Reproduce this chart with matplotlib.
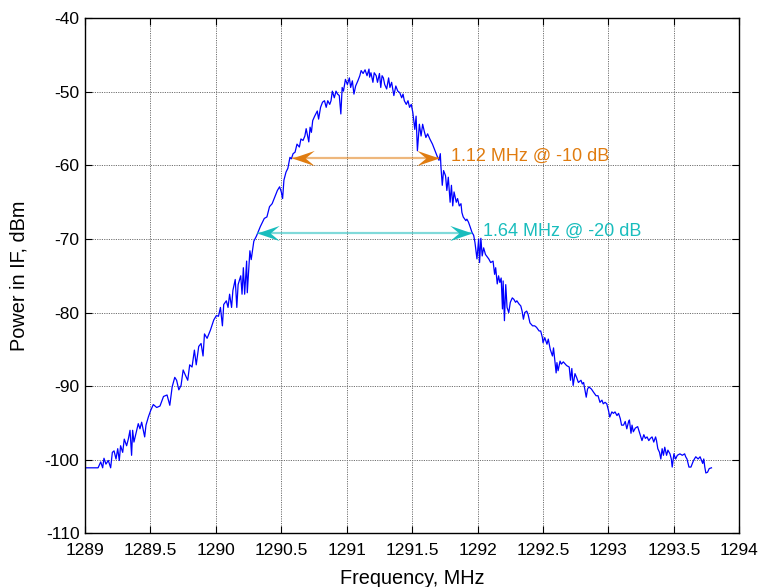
import numpy as np
import matplotlib
matplotlib.use('Agg')
import matplotlib.pyplot as plt
from matplotlib.path import Path

plt.rcParams['font.family'] = ['Liberation Sans', 'DejaVu Sans']

# measured IF spectrum (MHz, dBm)
freq = [
    1289.000, 1289.100, 1289.120, 1289.135, 1289.145, 1289.160, 1289.178, 1289.196, 1289.209, 1289.222,
    1289.237, 1289.250, 1289.262, 1289.272, 1289.288, 1289.300, 1289.318, 1289.331, 1289.344, 1289.356,
    1289.364, 1289.374, 1289.395, 1289.407, 1289.420, 1289.433, 1289.446, 1289.456, 1289.466, 1289.484,
    1289.502, 1289.522, 1289.548, 1289.573, 1289.600, 1289.627, 1289.648, 1289.666, 1289.686, 1289.700,
    1289.717, 1289.734, 1289.750, 1289.767, 1289.785, 1289.800, 1289.818, 1289.836, 1289.850, 1289.869,
    1289.887, 1289.902, 1289.913, 1289.933, 1289.958, 1289.984, 1290.004, 1290.020, 1290.035, 1290.050,
    1290.060, 1290.080, 1290.093, 1290.105, 1290.120, 1290.130, 1290.148, 1290.160, 1290.170, 1290.190,
    1290.200, 1290.210, 1290.220, 1290.235, 1290.240, 1290.260, 1290.270, 1290.290, 1290.310, 1290.340,
    1290.370, 1290.390, 1290.410, 1290.430, 1290.450, 1290.470, 1290.487, 1290.500, 1290.510, 1290.520,
    1290.536, 1290.550, 1290.566, 1290.577, 1290.590, 1290.605, 1290.620, 1290.638, 1290.650, 1290.666,
    1290.680, 1290.690, 1290.710, 1290.720, 1290.730, 1290.740, 1290.755, 1290.775, 1290.785, 1290.800,
    1290.815, 1290.830, 1290.843, 1290.855, 1290.870, 1290.880, 1290.890, 1290.905, 1290.918, 1290.930,
    1290.943, 1290.955, 1290.965, 1290.975, 1290.990, 1291.005, 1291.020, 1291.030, 1291.043, 1291.055,
    1291.068, 1291.085, 1291.100, 1291.110, 1291.125, 1291.140, 1291.155, 1291.170, 1291.175, 1291.185,
    1291.200, 1291.210, 1291.225, 1291.235, 1291.250, 1291.260, 1291.270, 1291.280, 1291.290, 1291.305,
    1291.320, 1291.330, 1291.343, 1291.360, 1291.375, 1291.390, 1291.405, 1291.420, 1291.430, 1291.440,
    1291.455, 1291.468, 1291.480, 1291.493, 1291.505, 1291.520, 1291.530, 1291.540, 1291.555, 1291.568,
    1291.580, 1291.593, 1291.605, 1291.618, 1291.635, 1291.655, 1291.675, 1291.690, 1291.705, 1291.715,
    1291.720, 1291.730, 1291.740, 1291.755, 1291.765, 1291.776, 1291.790, 1291.800, 1291.810, 1291.820,
    1291.837, 1291.847, 1291.860, 1291.873, 1291.880, 1291.890, 1291.910, 1291.918, 1291.930, 1291.944,
    1291.957, 1291.970, 1291.980, 1291.995, 1292.008, 1292.015, 1292.025, 1292.035, 1292.046, 1292.060,
    1292.085, 1292.100, 1292.118, 1292.130, 1292.138, 1292.150, 1292.160, 1292.170, 1292.180, 1292.190,
    1292.195, 1292.205, 1292.215, 1292.225, 1292.238, 1292.250, 1292.265, 1292.277, 1292.290, 1292.300,
    1292.315, 1292.330, 1292.340, 1292.350, 1292.360, 1292.375, 1292.385, 1292.400, 1292.420, 1292.436,
    1292.450, 1292.470, 1292.482, 1292.495, 1292.500, 1292.513, 1292.530, 1292.540, 1292.555, 1292.572,
    1292.580, 1292.600, 1292.606, 1292.615, 1292.630, 1292.640, 1292.655, 1292.680, 1292.700, 1292.710,
    1292.720, 1292.730, 1292.744, 1292.756, 1292.770, 1292.790, 1292.800, 1292.810, 1292.830, 1292.840,
    1292.850, 1292.870, 1292.885, 1292.905, 1292.920, 1292.935, 1292.950, 1292.960, 1292.974, 1292.987,
    1293.000, 1293.010, 1293.026, 1293.038, 1293.050, 1293.065, 1293.077, 1293.090, 1293.100, 1293.115,
    1293.128, 1293.140, 1293.154, 1293.160, 1293.172, 1293.180, 1293.190, 1293.205, 1293.223, 1293.240,
    1293.256, 1293.270, 1293.282, 1293.295, 1293.308, 1293.320, 1293.333, 1293.346, 1293.360, 1293.367,
    1293.377, 1293.390, 1293.400, 1293.410, 1293.420, 1293.430, 1293.444, 1293.454, 1293.470, 1293.480,
    1293.487, 1293.500, 1293.513, 1293.526, 1293.546, 1293.564, 1293.582, 1293.590, 1293.600, 1293.615,
    1293.630, 1293.650, 1293.667, 1293.685, 1293.700, 1293.720, 1293.728, 1293.736, 1293.744, 1293.757,
    1293.770, 1293.787,
]
power = [
    -101.1, -101.1, -100.3, -101.1, -99.8, -100.6, -100.1, -101.1, -99.0, -98.8,
    -99.9, -98.5, -100.1, -98.1, -99.0, -97.2, -98.1, -97.2, -96.0, -99.4,
    -96.0, -97.6, -96.0, -95.1, -95.8, -94.9, -96.0, -96.9, -95.3, -94.2,
    -93.3, -92.5, -92.9, -92.7, -91.4, -91.2, -92.6, -90.1, -88.8, -89.2,
    -90.5, -89.9, -87.8, -88.5, -89.2, -87.1, -87.4, -85.1, -87.1, -84.6,
    -84.2, -85.9, -82.9, -83.5, -82.4, -81.0, -80.4, -80.5, -79.3, -81.8,
    -78.9, -78.4, -79.3, -77.5, -79.3, -77.0, -75.5, -79.3, -76.2, -75.0,
    -77.5, -73.9, -77.5, -73.0, -77.3, -71.6, -72.8, -70.3, -69.6, -68.3,
    -67.2, -67.0, -65.6, -65.2, -64.3, -63.4, -62.9, -63.6, -64.5, -62.0,
    -60.9, -60.4, -58.9, -59.1, -58.4, -58.2, -57.1, -57.5, -56.4, -56.6,
    -56.0, -55.0, -56.8, -54.8, -55.5, -53.9, -53.3, -52.6, -53.7, -52.1,
    -51.4, -51.2, -52.1, -51.2, -51.7, -51.2, -49.9, -50.8, -49.9, -50.3,
    -50.5, -53.0, -49.4, -49.9, -48.3, -49.0, -48.1, -49.4, -48.5, -50.3,
    -49.2, -48.5, -47.8, -47.1, -47.5, -47.0, -47.8, -46.9, -48.0, -47.4,
    -48.7, -47.4, -47.8, -48.7, -47.5, -49.4, -47.8, -48.1, -49.0, -49.6,
    -48.1, -49.4, -48.7, -50.5, -49.2, -49.9, -50.1, -50.8, -50.3, -51.2,
    -51.7, -51.2, -52.1, -51.7, -52.8, -55.1, -53.3, -58.0, -54.4, -56.0,
    -54.4, -55.4, -56.2, -55.7, -56.4, -57.1, -58.0, -58.7, -59.3, -58.4,
    -60.2, -62.7, -60.7, -61.4, -63.4, -61.6, -65.0, -62.7, -65.5, -63.6,
    -65.0, -64.5, -65.5, -65.2, -66.4, -67.0, -67.5, -67.3, -67.7, -68.4,
    -69.1, -69.5, -70.5, -72.7, -70.0, -73.2, -69.9, -72.3, -71.2, -72.1,
    -72.7, -73.2, -73.0, -74.8, -73.9, -76.1, -75.0, -75.9, -75.3, -79.5,
    -75.7, -81.1, -76.2, -79.3, -80.0, -78.6, -78.0, -78.2, -78.6, -78.4,
    -78.8, -79.1, -79.8, -80.9, -80.0, -79.8, -80.2, -81.4, -81.8, -81.8,
    -82.0, -82.5, -82.5, -83.4, -84.1, -83.4, -84.3, -83.6, -85.0, -85.9,
    -84.8, -88.2, -86.8, -87.9, -86.6, -87.0, -86.7, -87.2, -87.4, -89.2,
    -87.6, -89.9, -88.3, -88.8, -89.5, -89.2, -89.7, -89.5, -91.5, -90.4,
    -90.1, -90.4, -90.8, -91.3, -91.3, -92.2, -91.9, -92.4, -92.2, -92.4,
    -93.3, -94.2, -93.5, -93.7, -93.5, -94.0, -93.7, -94.4, -95.3, -95.3,
    -94.8, -95.8, -94.8, -94.6, -96.4, -95.3, -96.2, -95.7, -95.5, -96.5,
    -97.4, -96.6, -97.1, -96.9, -97.4, -97.1, -96.9, -97.6, -96.9, -97.4,
    -98.5, -99.0, -99.9, -98.5, -99.4, -98.3, -99.4, -98.7, -99.2, -99.9,
    -101.0, -99.2, -99.9, -99.4, -99.2, -99.4, -99.2, -99.6, -99.9, -101.0,
    -101.0, -100.1, -99.6, -99.9, -99.6, -100.5, -99.9, -101.0, -101.8, -101.7,
    -101.2, -101.1,
]

# bandwidth markers: left edge, width (MHz), level (dBm)
bw_start = [1290.585, 1290.315]
bw_width = [1.12, 1.64]
bw_level = [-59.0, -69.2]
bw_text = ['1.12 MHz @ -10 dB', '1.64 MHz @ -20 dB']
bw_color = ['#E07C10', '#19BDBD']

xticks = [1289, 1289.5, 1290, 1290.5, 1291, 1291.5, 1292, 1292.5, 1293, 1293.5, 1294]
yticks = [-110, -100, -90, -80, -70, -60, -50, -40]

fig = plt.figure(figsize=(7.63, 5.87), dpi=100)
ax = fig.add_axes([0.1114, 0.0915, 0.8576, 0.8773])

ax.plot(freq, power, color='#0000FF', lw=0.9)

# arrow head shaped like a swept-back chevron, tip at origin
head_r = Path([(0, 0), (-22, 7.5), (-13, 0), (-22, -7.5), (0, 0)],
              [Path.MOVETO, Path.LINETO, Path.LINETO, Path.LINETO, Path.CLOSEPOLY])
head_l = Path([(0, 0), (22, 7.5), (13, 0), (22, -7.5), (0, 0)],
              [Path.MOVETO, Path.LINETO, Path.LINETO, Path.LINETO, Path.CLOSEPOLY])

for x0, w, lv, txt, c in zip(bw_start, bw_width, bw_level, bw_text, bw_color):
    x1 = x0 + w
    ax.plot([x0, x1], [lv, lv], color=c, lw=1.6, alpha=0.55, solid_capstyle='butt')
    ax.plot([x0], [lv], marker=head_l, markersize=32, color=c, markeredgewidth=0, linestyle='none')
    ax.plot([x1], [lv], marker=head_r, markersize=32, color=c, markeredgewidth=0, linestyle='none')
    ax.text(x1 + 0.09, lv + 0.2, txt, color=c, fontsize=13, va='center', ha='left')

ax.set_xlim(1289, 1294)
ax.set_ylim(-110, -40)
ax.set_xticks(xticks)
ax.set_xticklabels([('%g' % t) for t in xticks])
ax.set_yticks(yticks)
ax.set_yticklabels([('%g' % t) for t in yticks])
ax.tick_params(direction='in', top=True, right=True, length=5, width=0.8,
               labelsize=12.5)
ax.tick_params(axis='x', pad=7)
ax.tick_params(axis='y', pad=4)
ax.grid(True, color='#707070', linestyle=(0, (1.2, 1.2)), lw=0.7)
for s in ax.spines.values():
    s.set_linewidth(1.0)

ax.set_xlabel('Frequency, MHz', fontsize=14.3, labelpad=8)
ax.set_ylabel('Power in IF, dBm', fontsize=14.3, labelpad=12)

fig.savefig('out.png', dpi=100)
